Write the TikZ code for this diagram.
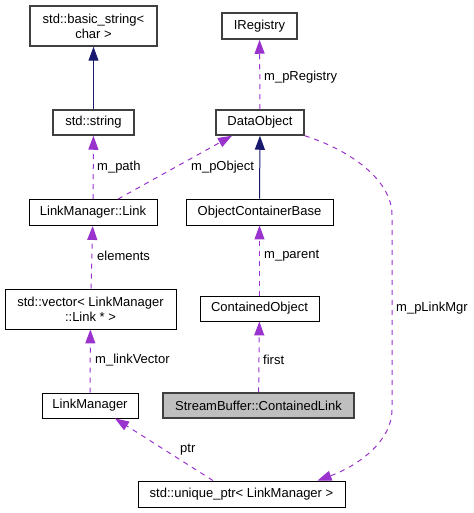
\documentclass[tikz,border=0pt]{standalone}
\usepackage{fontspec}
\setmainfont{Liberation Sans}
\usetikzlibrary{arrows.meta}
\definecolor{edgepurple}{HTML}{9A32CD}
\definecolor{edgenavy}{HTML}{191970}
\definecolor{extgray}{HTML}{404040}
\definecolor{curfill}{HTML}{BFBFBF}
\begin{document}
\begin{tikzpicture}[x=1pt,y=-1pt,
  every node/.style={font=\fontsize{13}{15}\selectfont},
  cls/.style={draw=black, line width=0.9pt, fill=white, inner sep=0pt, align=center},
  extcls/.style={cls, draw=extgray, line width=1.5pt},
  curcls/.style={cls, fill=curfill, draw=extgray, line width=1.3pt},
  inh/.style={draw=edgenavy, line width=1pt, -{Triangle[length=14pt,width=10pt]}},
  use/.style={draw=edgepurple, line width=1pt, dash pattern=on 5pt off 5pt, -{Triangle[length=14pt,width=10pt]}},
  lbl/.style={inner sep=0pt, anchor=west}]
\useasboundingbox (0,0) rectangle (473,513);
% nodes
\node[extcls, minimum width=127, minimum height=40] (bs) at (93.5,26) {std::basic\_string<\\char >};
\node[extcls, minimum width=81, minimum height=25] (str) at (93.5,122.5) {std::string};
\node[cls, minimum width=128, minimum height=26] (link) at (93,212.5) {LinkManager::Link};
\node[extcls, minimum width=75, minimum height=26] (ireg) at (259.5,26) {IRegistry};
\node[extcls, minimum width=88, minimum height=25] (dobj) at (260,122.5) {DataObject};
\node[cls, minimum width=147, minimum height=26] (ocb) at (259.5,212) {ObjectContainerBase};
\node[cls, minimum width=171, minimum height=40] (vec) at (90.5,309) {std::vector< LinkManager\\::Link * >};
\node[cls, minimum width=96, minimum height=25] (lm) at (90,405.5) {LinkManager};
\node[cls, minimum width=119, minimum height=25] (cobj) at (259.5,308.5) {ContainedObject};
\node[curcls, minimum width=191, minimum height=25] (cl) at (258.5,405.5) {StreamBuffer::ContainedLink};
\node[cls, minimum width=207, minimum height=26] (up) at (241.5,494) {std::unique\_ptr< LinkManager >};
% edges
\draw[inh] (str) -- (bs);
\draw[inh] (ocb) -- (dobj);
\draw[use] (link) -- (str);
\draw[use] ([xshift=25]link.north) -- ([xshift=-28]dobj.south);
\draw[use] (dobj) -- (ireg);
\draw[use] (vec) -- (link);
\draw[use] (lm) -- (vec);
\draw[use] (cobj) -- (ocb);
\draw[use] (cl) -- (cobj);
\draw[use] ([xshift=-28.5]up.north) -- ([xshift=25]lm.south);
\draw[use] (dobj.south east) .. controls (350,150) and (392,180) .. (392,215)
  -- (392,410) .. controls (392,440) and (360,465) .. ([xshift=76]up.north);
% labels
\node[lbl] (lpath) at (97,167) {m\_path};
\node[lbl] (lpobj) at (191,167) {m\_pObject};
\node[lbl] (lpreg) at (264,77) {m\_pRegistry};
\node[lbl] (lelem) at (97,255.5) {elements};
\node[lbl] (lpar) at (264,256) {m\_parent};
\node[lbl] (llv) at (95,360) {m\_linkVector};
\node[lbl] (lfirst) at (263,360) {first};
\node[lbl] (lptr) at (180,449.5) {ptr};
\node[lbl] (lmgr) at (396,308) {m\_pLinkMgr};
\end{tikzpicture}
\end{document}
